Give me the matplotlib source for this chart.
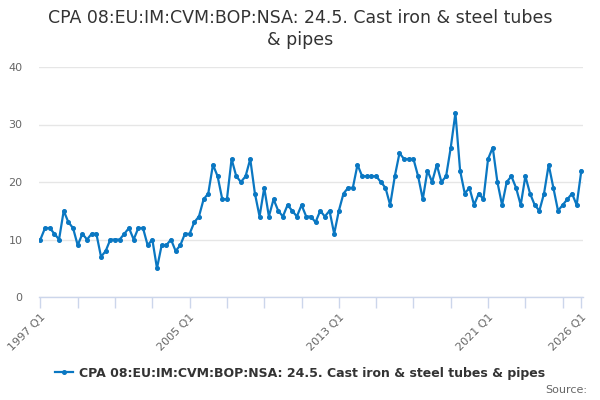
import matplotlib
matplotlib.use("Agg")
import matplotlib.pyplot as plt
from matplotlib.lines import Line2D

title = "CPA 08:EU:IM:CVM:BOP:NSA: 24.5. Cast iron & steel tubes\n& pipes"
series_name = "CPA 08:EU:IM:CVM:BOP:NSA: 24.5. Cast iron & steel tubes & pipes"

start_year = 1997
values = [
    10, 12, 12, 11, 10, 15, 13, 12, 9, 11, 10, 11, 11, 7, 8, 10,
    10, 10, 11, 12, 10, 12, 12, 9, 10, 5, 9, 9, 10, 8, 9, 11,
    11, 13, 14, 17, 18, 23, 21, 17, 17, 24, 21, 20, 21, 24, 18, 14,
    19, 14, 17, 15, 14, 16, 15, 14, 16, 14, 14, 13, 15, 14, 15, 11,
    15, 18, 19, 19, 23, 21, 21, 21, 21, 20, 19, 16, 21, 25, 24, 24,
    24, 21, 17, 22, 20, 23, 20, 21, 26, 32, 22, 18, 19, 16, 18, 17,
    24, 26, 20, 16, 20, 21, 19, 16, 21, 18, 16, 15, 18, 23, 19, 15,
    16, 17, 18, 16, 22,
]
labels = [f"{start_year + i // 4} Q{i % 4 + 1}" for i in range(len(values))]
label_idx = [0, 32, 64, 96, 116]
yticks = [0, 10, 20, 30, 40]

line_color = "#0a77c2"

fig = plt.figure(figsize=(6, 4), dpi=100)
ax = fig.add_axes([0.065, 0.2575, 0.907, 0.575])
x = list(range(len(values)))
ax.plot(x, values, color=line_color, lw=1.6, marker="o", ms=2.6, zorder=3)

ax.set_ylim(0, 40)
ax.set_xlim(-0.3, len(values) - 1 + 0.4)
ax.set_yticks(yticks)
ax.set_yticklabels([str(v) for v in yticks])
ax.grid(axis="y", color="#e6e6e6", lw=1)
ax.set_axisbelow(True)

major = list(range(0, len(values), 8)) + [len(values) - 1]
ax.set_xticks(major)
ax.set_xticklabels([labels[i] if i in label_idx else "" for i in major],
                   rotation=45, ha="right", rotation_mode="anchor")
ax.tick_params(axis="x", length=8, color="#ccd6eb", width=1, labelsize=8,
               labelcolor="#666666", pad=3)
ax.tick_params(axis="y", length=0, labelsize=8, labelcolor="#666666", pad=12)
for s in ["top", "right", "left"]:
    ax.spines[s].set_visible(False)
ax.spines["bottom"].set_color("#ccd6eb")
ax.spines["bottom"].set_linewidth(1)

fig.text(0.5, 0.927, title, ha="center", va="center", fontsize=12.5,
         color="#333333", linespacing=1.25)

handle = Line2D([0], [0], color=line_color, lw=1.6, marker="o", ms=2.6)
fig.legend([handle], [series_name], loc="center", bbox_to_anchor=(0.5, 0.067),
           frameon=False, prop={"weight": "bold", "size": 9},
           handlelength=1.4, handletextpad=0.5, labelcolor="#333333")
fig.text(0.978, 0.025, "Source:", ha="right", va="center", fontsize=8,
         color="#666666")

fig.savefig("out.png", dpi=100)
